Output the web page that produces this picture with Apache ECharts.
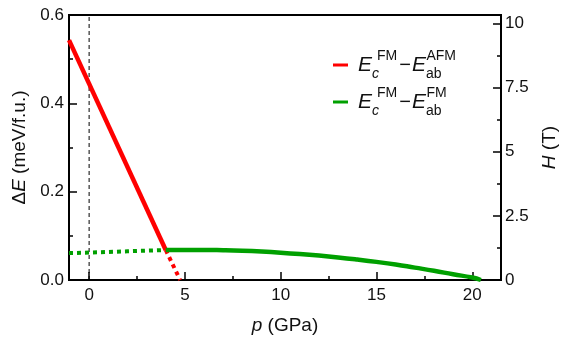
<!DOCTYPE html>
<html>
<head>
<meta charset="utf-8">
<script src="https://cdn.jsdelivr.net/npm/echarts@6/dist/echarts.min.js"></script>
<style>
html,body{margin:0;padding:0;background:#fff;}
#c{width:567px;height:340px;}
</style>
</head>
<body>
<div id="c"></div>
<script>
// ---- data ----
const pTicks = [0, 5, 10, 15, 20];
const pMinorTicks = [2.5, 7.5, 12.5, 17.5];
const hTicks = [0, 2.5, 5, 7.5, 10];
const hMinorTicks = [1.25, 3.75, 6.25, 8.75];

const redSolidP = [-1.05, 4.0];
const redSolidE = [0.543, 0.068];
const redDotP = [4.0, 4.75];
const redDotE = [0.068, 0.0];

const greenDotP = [-1.05, 0, 1, 2, 3, 4.0];
const greenDotE = [0.061, 0.062, 0.0635, 0.065, 0.0665, 0.068];
const greenSolidP = [4, 5, 6, 7, 8, 9, 10, 11, 12, 13, 14, 15, 16, 17, 18, 19, 20, 20.45];
const greenSolidE = [0.068, 0.068, 0.068, 0.0673, 0.0661, 0.0643, 0.0619, 0.0589, 0.0553, 0.0511, 0.0463, 0.041, 0.035, 0.028, 0.021, 0.013, 0.0055, 0];

const refLineP = [0, 0];
const refLineE = [0, 0.6];

const pMin = -1.05, pMax = 21.5;
const eMin = 0, eMax = 0.6;
const hMin = 0, hMax = 10.33;

const zip = (a, b) => a.map((v, i) => [v, b[i]]);
const FONT = 'Liberation Sans';
const RED = '#ff0000';
const GREEN = '#00a000';
const INK = '#111';
const TICK = 17;
const NAME = 19;

const chart = echarts.init(document.getElementById('c'), null, {renderer: 'canvas'});

const nameRich = {
  i: {fontFamily: FONT, fontSize: NAME, fontStyle: 'italic', color: INK},
  n: {fontFamily: FONT, fontSize: NAME, color: INK}
};

const legendRich = {
  E: {fontFamily: FONT, fontSize: 21, fontStyle: 'italic', color: INK, lineHeight: 32, verticalAlign: 'middle'},
  c: {fontFamily: FONT, fontSize: 14, fontStyle: 'italic', color: INK, lineHeight: 22, verticalAlign: 'bottom', width: 5},
  ab: {fontFamily: FONT, fontSize: 14, color: INK, lineHeight: 22, verticalAlign: 'bottom', width: 0.5},
  sup: {fontFamily: FONT, fontSize: 14, color: INK, lineHeight: 9, verticalAlign: 'top'},
  m: {fontFamily: FONT, fontSize: 20, color: INK, lineHeight: 32, verticalAlign: 'middle', padding: [0, 1, 0, 2]}
};

const option = {
  animation: false,
  backgroundColor: '#fff',
  textStyle: {fontFamily: FONT},
  grid: {left: 69, right: 66, top: 15, bottom: 58, show: true, borderColor: '#000', borderWidth: 2, backgroundColor: 'transparent'},
  legend: {
    data: ['AFM', 'FM'],
    orient: 'vertical',
    left: 333,
    top: 49,
    padding: 0,
    itemWidth: 15,
    itemHeight: 3,
    itemGap: 5,
    icon: 'rect',
    selectedMode: false,
    formatter: function (name) {
      if (name === 'AFM') return '{E|E}{c|c}{sup|FM}{m|\u2212}{E|E}{ab|ab}{sup|AFM}';
      return '{E|E}{c|c}{sup|FM}{m|\u2212}{E|E}{ab|ab}{sup|FM}';
    },
    textStyle: {rich: legendRich, padding: [0, 0, 0, 5]}
  },
  xAxis: [
    {
      type: 'value', min: pMin, max: pMax, position: 'bottom',
      name: '{i|p}{n| (GPa)}', nameLocation: 'middle', nameGap: 36,
      nameTextStyle: {rich: nameRich},
      axisLine: {show: false, onZero: false},
      splitLine: {show: false},
      axisTick: {show: true, inside: true, length: 8, customValues: pTicks, lineStyle: {color: '#000', width: 1.5}},
      axisLabel: {customValues: pTicks, fontFamily: FONT, fontSize: TICK, color: INK, margin: 7}
    },
    {
      type: 'value', min: pMin, max: pMax, position: 'bottom',
      axisLine: {show: false, onZero: false},
      splitLine: {show: false},
      axisTick: {show: true, inside: true, length: 4, customValues: pMinorTicks, lineStyle: {color: '#000', width: 1.5}},
      axisLabel: {show: false}
    }
  ],
  yAxis: [
    {
      type: 'value', min: eMin, max: eMax, interval: 0.2, position: 'left',
      name: '{n|\u0394}{i|E}{n| (meV/f.u.)}', nameLocation: 'middle', nameGap: 37, nameRotate: 90,
      nameTextStyle: {rich: nameRich},
      axisLine: {show: false, onZero: false},
      splitLine: {show: false},
      axisTick: {show: true, inside: true, length: 8, lineStyle: {color: '#000', width: 1.5}},
      minorTick: {show: true, splitNumber: 2, length: 4, lineStyle: {color: '#000', width: 1.5}},
      axisLabel: {fontFamily: FONT, fontSize: TICK, color: INK, margin: 5, formatter: v => v.toFixed(1)}
    },
    {
      type: 'value', min: hMin, max: hMax, position: 'right',
      name: '{i|H}{n| (T)}', nameLocation: 'middle', nameGap: 39, nameRotate: 90,
      nameTextStyle: {rich: nameRich},
      axisLine: {show: false, onZero: false},
      splitLine: {show: false},
      axisTick: {show: true, inside: true, length: 8, customValues: hTicks, lineStyle: {color: '#000', width: 1.5}},
      axisLabel: {customValues: hTicks, fontFamily: FONT, fontSize: TICK, color: INK, margin: 4}
    },
    {
      type: 'value', min: hMin, max: hMax, position: 'right',
      axisLine: {show: false, onZero: false},
      splitLine: {show: false},
      axisTick: {show: true, inside: true, length: 4, customValues: hMinorTicks, lineStyle: {color: '#000', width: 1.5}},
      axisLabel: {show: false}
    }
  ],
  series: [
    {
      name: 'ref', type: 'line', data: zip(refLineP, refLineE), showSymbol: false, symbol: 'none',
      lineStyle: {color: '#000', width: 1, type: [4, 3]}, z: 1, silent: true
    },
    {
      name: 'FMdot', type: 'line', data: zip(greenDotP, greenDotE), symbol: 'none',
      lineStyle: {color: GREEN, width: 4, type: [4, 4], cap: 'butt'}, z: 2
    },
    {
      name: 'AFMdot', type: 'line', data: zip(redDotP, redDotE), symbol: 'none',
      lineStyle: {color: RED, width: 4, type: [4, 4], cap: 'butt'}, z: 2
    },
    {
      name: 'AFM', type: 'line', data: zip(redSolidP, redSolidE), symbol: 'none',
      itemStyle: {color: RED},
      lineStyle: {color: RED, width: 4.5}, z: 3
    },
    {
      name: 'FM', type: 'line', data: zip(greenSolidP, greenSolidE), symbol: 'none', smooth: true,
      itemStyle: {color: GREEN},
      lineStyle: {color: GREEN, width: 4.5}, z: 4
    }
  ]
};
chart.setOption(option);
</script>
</body>
</html>
